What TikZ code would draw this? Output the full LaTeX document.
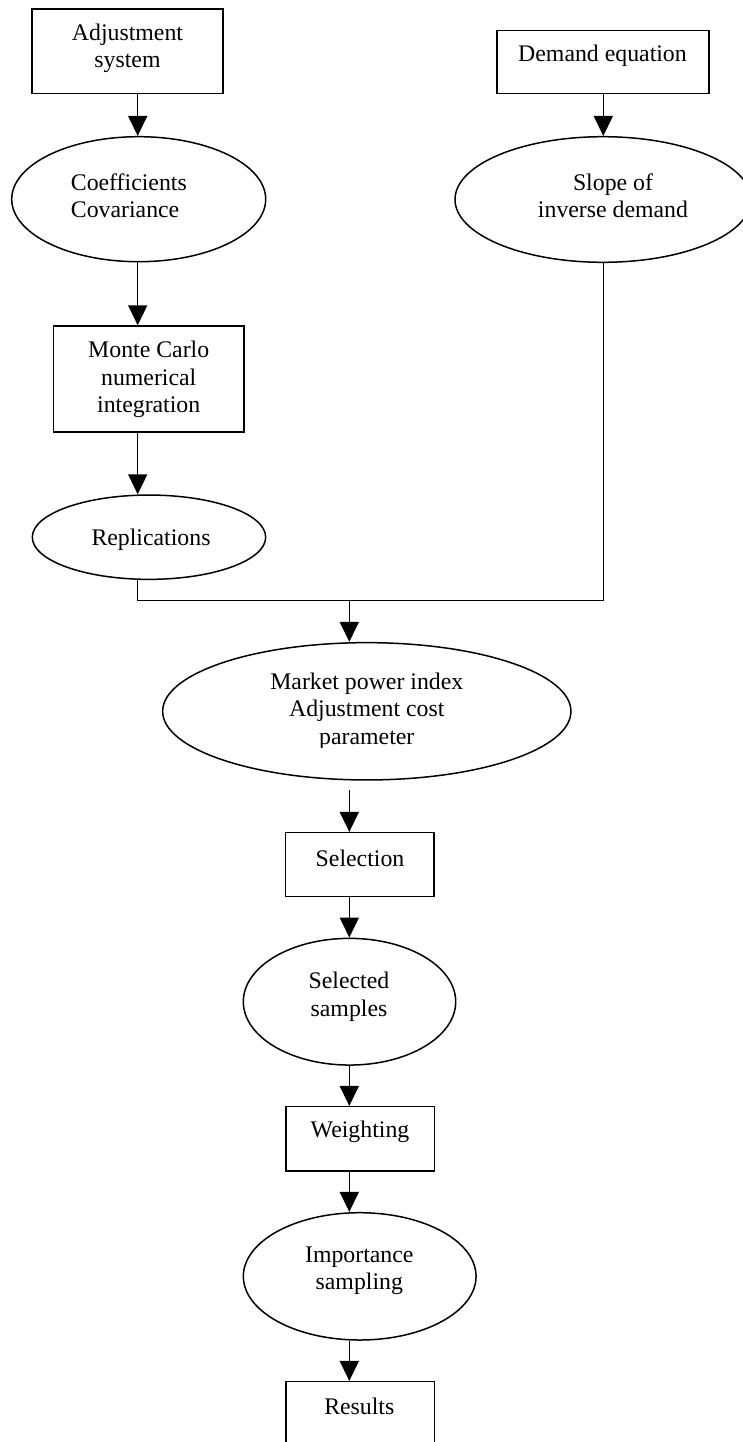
\documentclass[tikz,border=0pt]{standalone}
\usepackage{fontspec}
\setmainfont{Liberation Serif}
\usetikzlibrary{shapes.geometric,arrows.meta}
\tikzset{
  shapeline/.style={draw=black, line width=1.5pt, inner sep=0pt, fill=none},
  boxshape/.style={shapeline, rectangle},
  ellshape/.style={shapeline, ellipse},
  txt/.style={inner sep=0pt, align=center, font=\fontsize{23.8}{27.5}\selectfont},
  arr/.style={line width=1.5pt, -{Triangle[width=19pt,length=20pt]}},
  conn/.style={line width=1.5pt}
}
\begin{document}
\begin{tikzpicture}[x=1pt,y=-1pt]
\clip (0,0) rectangle (743,1442);
\fill[white] (0,0) rectangle (743,1442);
% shapes
\node[boxshape, minimum width=190.7pt, minimum height=84.7pt] (adj) at (127.5,51.35) {};
\node[ellshape, minimum width=254pt, minimum height=125pt] (coef) at (138.7,199.2) {};
\node[boxshape, minimum width=190.7pt, minimum height=105.7pt] (mc) at (148.7,378.9) {};
\node[ellshape, minimum width=233.4pt, minimum height=84.3pt] (rep) at (149,537.2) {};
\node[boxshape, minimum width=211.7pt, minimum height=63pt] (dem) at (602.9,62.2) {};
\node[ellshape, minimum width=296pt, minimum height=125.6pt] (slope) at (603,199.5) {};
\node[ellshape, minimum width=408.3pt, minimum height=137.3pt] (mkt) at (366.8,711.3) {};
\node[boxshape, minimum width=148.3pt, minimum height=64pt] (sel) at (359.85,864.7) {};
\node[ellshape, minimum width=212.4pt, minimum height=126.7pt] (ss) at (349.5,1001.7) {};
\node[boxshape, minimum width=148.3pt, minimum height=64.3pt] (wt) at (360.15,1138.85) {};
\node[ellshape, minimum width=232.7pt, minimum height=127.3pt] (imp) at (359.7,1276.35) {};
\node[boxshape, minimum width=148.3pt, minimum height=64pt] (res) at (360.15,1413.7) {};
% texts
\node[txt] (tadj) at (127.5,48.5) {Adjustment\\system};
\node[txt, align=left, anchor=west] (tcoef) at (70.7,195.5) {Coefficients\\Covariance};
\node[txt] (tmc) at (148.7,379.5) {Monte Carlo\\numerical\\integration};
\node[txt] (trep) at (151,539.3) {Replications};
\node[txt] (tdem) at (602.5,55.5) {Demand equation};
\node[txt] (tslope) at (613,195.5) {Slope of\\inverse demand};
\begin{scope}
\clip (240,650) rectangle (500,747);
\node[txt] (tmkt) at (366.8,711) {Market power index\\Adjustment cost\\parameter};
\end{scope}
\node[txt] (tsel) at (360,858) {Selection};
\node[txt] (tss) at (349,997) {Selected\\samples};
\node[txt] (twt) at (360,1132) {Weighting};
\node[txt] (timp) at (359.3,1271) {Importance\\sampling};
\node[txt] (tres) at (359.3,1406) {Results};
% helper coordinates
\coordinate (lx) at (137.7,0);
\coordinate (rx) at (603.3,0);
\coordinate (cx) at (349.3,0);
\coordinate (jl) at (137.7,600.7);
\coordinate (jr) at (603.3,600.7);
\coordinate (jm) at (349.3,600.7);
\coordinate (gap) at (349.3,790);
% connectors
\draw[arr] (adj.south -| lx) -- (coef.north -| lx);
\draw[arr] (coef.south -| lx) -- (mc.north -| lx);
\draw[arr] (mc.south -| lx) -- (rep.north -| lx);
\draw[arr] (dem.south -| rx) -- (slope.north -| rx);
\draw[conn] (rep.south -| jl) -- (jl) -- (jr) -- (slope.south -| jr);
\draw[arr] (jm) -- (mkt.north -| jm);
\draw[arr] (gap) -- (sel.north -| gap);
\draw[arr] (sel.south -| cx) -- (ss.north -| cx);
\draw[arr] (ss.south -| cx) -- (wt.north -| cx);
\draw[arr] (wt.south -| cx) -- (imp.north -| cx);
\draw[arr] (imp.south -| cx) -- (res.north -| cx);
\end{tikzpicture}
\end{document}
